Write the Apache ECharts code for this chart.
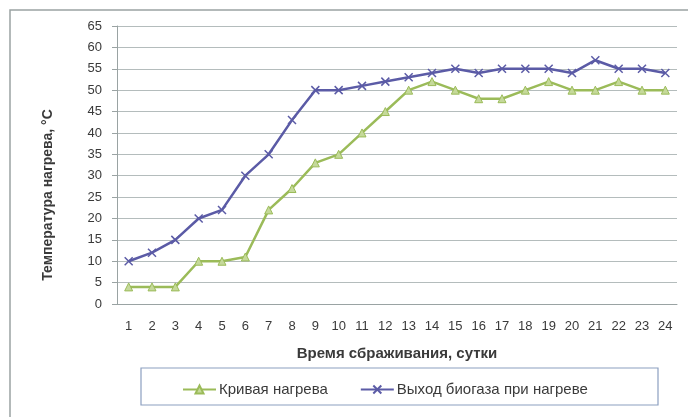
<!DOCTYPE html>
<html><head><meta charset="utf-8">
<script src="https://cdn.jsdelivr.net/npm/echarts@6/dist/echarts.min.js"></script>
<style>html,body{margin:0;padding:0;background:#fff}#c{width:688px;height:417px}</style>
</head><body><div id="c"></div>
<script>
const days = ['1','2','3','4','5','6','7','8','9','10','11','12','13','14','15','16','17','18','19','20','21','22','23','24'];
const heatCurve = [4,4,4,10,10,11,22,27,33,35,40,45,50,52,50,48,48,50,52,50,50,52,50,50];
const biogasOutput = [10,12,15,20,22,30,35,43,50,50,51,52,53,54,55,54,55,55,55,54,57,55,55,54];
const seriesNames = ['Кривая нагрева','Выход биогаза при нагреве'];
const yTitle = 'Температура нагрева, °С';
const xTitle = 'Время сбраживания, сутки';

const xSym = 'path://M0,0L10,10M10,0L0,10';
const chart = echarts.init(document.getElementById('c'));
const font = 'Liberation Sans';
const txt = '#3a3a3a';
chart.setOption({
  animation:false,
  textStyle:{fontFamily:font},
  graphic:[
    {type:'rect',shape:{x:10,y:10,width:700,height:430},style:{fill:'none',stroke:'#9aa3a3',lineWidth:1.5}},
    {type:'rect',shape:{x:141,y:368,width:517,height:37},style:{fill:'none',stroke:'#8c9fc0',lineWidth:1.2}},
    {type:'text',x:48,y:195,rotation:Math.PI/2,
     style:{text:yTitle,align:'center',verticalAlign:'middle',fontFamily:font,fontSize:14,fontWeight:'bold',fill:txt}}
  ],
  grid:{left:117,right:11,top:26,bottom:113},
  legend:{left:177,top:377,itemGap:32,itemWidth:33,itemHeight:10,
    textStyle:{fontFamily:font,fontSize:15,color:txt,padding:[0,0,0,-2]},
    data:seriesNames},
  xAxis:{type:'category',data:days,boundaryGap:true,
    name:xTitle,nameLocation:'middle',nameGap:42,
    nameTextStyle:{fontFamily:font,fontSize:15,fontWeight:'bold',color:txt},
    axisLine:{lineStyle:{color:'#9aa3a3'}},axisTick:{show:false},
    axisLabel:{fontSize:13,color:txt,margin:16,interval:0}},
  yAxis:{type:'value',min:0,max:65,interval:5,
    axisLine:{show:true,lineStyle:{color:'#9aa3a3'}},
    axisTick:{show:true,length:5,lineStyle:{color:'#9aa3a3'}},
    axisLabel:{fontSize:13,color:txt,margin:15},
    splitLine:{lineStyle:{color:'#b4bcbc',width:1.2}}},
  series:[
    {name:seriesNames[0],type:'line',data:heatCurve,symbol:'triangle',symbolSize:8,
     lineStyle:{color:'#9bbb59',width:2.5},itemStyle:{color:'#c5d99a',borderColor:'#9bbb59',borderWidth:1},color:'#9bbb59'},
    {name:seriesNames[1],type:'line',data:biogasOutput,symbol:xSym,symbolSize:8,
     lineStyle:{color:'#5b5ba6',width:2.5},itemStyle:{color:'#5b5ba6',borderColor:'#5b5ba6',borderWidth:1.5},color:'#5b5ba6'}
  ]
});
</script></body></html>
